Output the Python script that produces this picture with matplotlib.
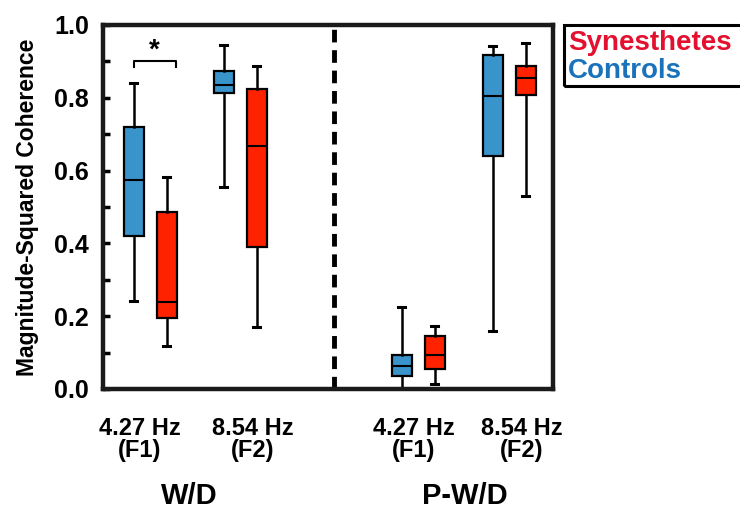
import matplotlib
matplotlib.use("Agg")
import matplotlib.pyplot as plt
from matplotlib.patches import Rectangle

# Данные (оценка по рисунку): медиана, квартили, усы
conditions = ["W/D F1", "W/D F2", "P-W/D F1", "P-W/D F2"]
tick_labels = ["4.27 Hz\n(F1)", "8.54 Hz\n(F2)", "4.27 Hz\n(F1)", "8.54 Hz\n(F2)"]
group_labels = ["W/D", "P-W/D"]

ctrl_low = [0.242, 0.554, 0.0, 0.159]
ctrl_q1 = [0.42, 0.813, 0.036, 0.639]
ctrl_med = [0.575, 0.834, 0.064, 0.804]
ctrl_q3 = [0.72, 0.873, 0.094, 0.918]
ctrl_high = [0.842, 0.946, 0.226, 0.942]

syn_low = [0.118, 0.171, 0.014, 0.529]
syn_q1 = [0.196, 0.391, 0.055, 0.809]
syn_med = [0.239, 0.668, 0.093, 0.855]
syn_q3 = [0.485, 0.824, 0.146, 0.886]
syn_high = [0.583, 0.887, 0.174, 0.951]

# раскладка по оси x (в пикселях от левой оси)
centers = [47, 137, 315, 406]
label_x = [37, 150, 311, 419]
group_x = [86, 362]
offset = 16.5
divider = 231
xmax = 450

blue = "#3a94cc"
red = "#ff2200"


def make_stats(low, q1, med, q3, high):
    return [dict(whislo=a, q1=b, med=c, q3=d, whishi=e, fliers=[])
            for a, b, c, d, e in zip(low, q1, med, q3, high)]


fig = plt.figure(figsize=(7.4, 5.16), dpi=100)
ax = fig.add_axes([103 / 740, 127 / 516, 450 / 740, 364 / 516])

box_kw = dict(widths=20, capwidths=7, patch_artist=True, showfliers=False,
              whiskerprops=dict(color="black", lw=1.8),
              capprops=dict(color="black", lw=2.2),
              medianprops=dict(color="black", lw=1.5))

ax.bxp(make_stats(ctrl_low, ctrl_q1, ctrl_med, ctrl_q3, ctrl_high),
       positions=[c - offset for c in centers],
       boxprops=dict(facecolor=blue, edgecolor="black", lw=1.6), **box_kw)
ax.bxp(make_stats(syn_low, syn_q1, syn_med, syn_q3, syn_high),
       positions=[c + offset for c in centers],
       boxprops=dict(facecolor=red, edgecolor="black", lw=1.6), **box_kw)

ax.axvline(divider, color="black", lw=3.5, dashes=(2.6, 1.6))

# значимость
x0 = centers[0] - offset
x1 = centers[0] + offset + 9
ax.plot([x0, x0, x1, x1], [0.885, 0.9, 0.9, 0.885], color="black", lw=1.5)
ax.text((x0 + x1) / 2, 0.965, "*", ha="center", va="top", fontsize=20, fontweight="bold",
        family="Liberation Sans")

ax.set_xlim(0, xmax)
ax.set_ylim(0, 1.0)
ax.set_yticks([0, 0.2, 0.4, 0.6, 0.8, 1.0])
ax.set_yticklabels(["0.0", "0.2", "0.4", "0.6", "0.8", "1.0"])
ax.set_yticks([0.1, 0.3, 0.5, 0.7, 0.9], minor=True)
ax.tick_params(axis="y", which="both", direction="in", length=5, width=2.5, pad=10)
ax.tick_params(axis="y", labelsize=18)
for t in ax.get_yticklabels():
    t.set_fontweight("bold")
    t.set_family("Liberation Sans")

ax.set_xticks(label_x)
ax.set_xticklabels(tick_labels, fontsize=17, fontweight="bold", family="Liberation Sans",
                   linespacing=0.95)
ax.tick_params(axis="x", length=0, pad=20)

for s in ax.spines.values():
    s.set_linewidth(3.2)
    s.set_color("#1a1a1a")

ax.set_ylabel("Magnitude-Squared Coherence", fontsize=16.5, fontweight="bold",
              family="Liberation Sans", labelpad=11)

for x, lab in zip(group_x, group_labels):
    ax.text(x, -0.295, lab, ha="center", va="center",
            fontsize=21, fontweight="bold", family="Liberation Sans", clip_on=False)

# легенда
fig.patches.append(Rectangle((564 / 740, (516 - 86) / 516), 190 / 740, 61 / 516,
                             transform=fig.transFigure, fill=False, lw=2.2,
                             edgecolor="black", clip_on=False))
fig.text(568 / 740, 1 - 43 / 516, "Synesthetes", color="#e3102f", fontsize=20,
         fontweight="bold", family="Liberation Sans", va="center")
fig.text(568 / 740, 1 - 71 / 516, "Controls", color="#1a72bb", fontsize=20,
         fontweight="bold", family="Liberation Sans", va="center")

fig.savefig("out.png", dpi=100)
